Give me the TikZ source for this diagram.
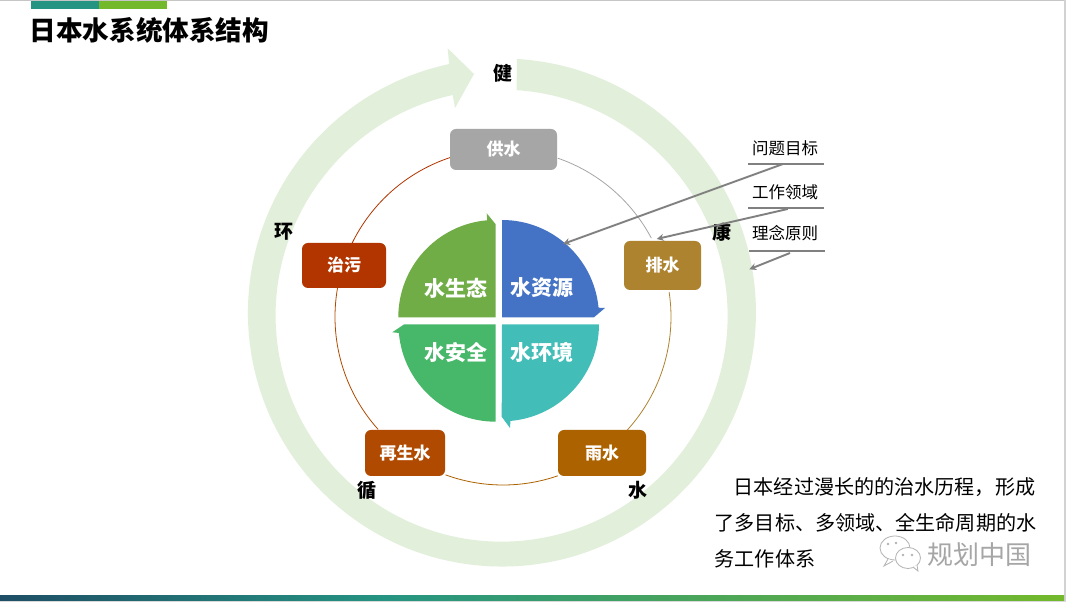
\documentclass[tikz,border=0pt]{standalone}
\usepackage{fontspec}
\setmainfont{Noto Sans CJK SC}
\usetikzlibrary{arrows.meta}
\definecolor{ringc}{HTML}{E2EFDA}
\definecolor{barteal}{HTML}{259482}
\definecolor{bargreen}{HTML}{74B92C}
\definecolor{barnavy}{HTML}{1E4E66}
\definecolor{qblue}{HTML}{4472C4}
\definecolor{qgreen}{HTML}{70AD47}
\definecolor{qteal}{HTML}{43BDB8}
\definecolor{qemer}{HTML}{47B769}
\definecolor{bgray}{HTML}{A6A6A6}
\definecolor{bochre}{HTML}{AE8330}
\definecolor{brain}{HTML}{AD6200}
\definecolor{breuse}{HTML}{B04A00}
\definecolor{bsew}{HTML}{B23500}
\tikzset{
  box/.style={fill=#1,rounded corners=6pt,inner sep=0pt,text=white,font=\fontsize{17}{18}\selectfont\bfseries},
  quadlab/.style={text=white,font=\fontsize{21}{24}\selectfont\bfseries,inner sep=0pt},
  lab/.style={text=black,font=\fontsize{19}{20}\selectfont\bfseries,inner sep=0pt},
  tag/.style={text=black,font=\fontsize{16.5}{18}\selectfont,inner sep=0pt},
  rulel/.style={draw=gray,line width=1.6pt},
  ptr/.style={draw=gray,line width=1.9pt,-{Stealth[length=7pt,width=7pt]}},
  para/.style={text=black,font=\fontsize{20.1}{24}\selectfont,inner sep=0pt,anchor=base west},
  circ/.style={line width=0.8pt}
}
\begin{document}
\begin{tikzpicture}[x=1pt,y=1pt,shift={(0,602)}]
\useasboundingbox (0,0) rectangle (1066,-602);
\fill[white] (0,0) rectangle (1066,-602);
% frame
\fill[gray!45] (0,0) rectangle (1066,-1);
\fill[gray!35] (1064,0) rectangle (1066,-602);
\fill[left color=barnavy,right color=barteal] (0,-596) rectangle (385,-601);
\fill[left color=barteal,right color=bargreen] (385,-596) rectangle (1064,-601);
\fill[gray!30] (0,-601) rectangle (1066,-602);
\fill[barteal] (31,-1) rectangle (99,-9);
\fill[bargreen] (99,-1) rectangle (167,-9);
\node[text=black,font=\fontsize{26.6}{30}\selectfont\bfseries,inner sep=0pt,anchor=west] (title) at (29.5,-30) {日本水系统体系结构};
% big ring
\fill[ringc] (517,-59) arc (86.6:-258:254) -- (447.7,-48.3) -- (474,-74) -- (455,-108) -- (452.7,-95) arc (-257.5:86.2:226) -- cycle;
% thin circle
\coordinate (c) at (503,-317);
\draw[circ,draw=bgray] ([shift={(71:168)}]c) arc (71:28:168);
\draw[circ,draw=bochre] ([shift={(8.5:168)}]c) arc (8.5:-42.3:168);
\draw[circ,draw=brain] ([shift={(-71:168)}]c) arc (-71:-110:168);
\draw[circ,draw=breuse] ([shift={(222:168)}]c) arc (222:170:168);
\draw[circ,draw=bsew] ([shift={(154:168)}]c) arc (154:108.4:168);
% boxes
\node[box=bgray,minimum width=107pt,minimum height=41pt] (gs) at (503.5,-149.5) {供水};
\node[box=bochre,minimum width=77pt,minimum height=49pt] (ps) at (662.5,-265.5) {排水};
\node[box=brain,minimum width=88pt,minimum height=46pt] (ys) at (602,-453) {雨水};
\node[box=breuse,minimum width=80pt,minimum height=46pt] (zs) at (405,-453) {再生水};
\node[box=bsew,minimum width=84pt,minimum height=45pt] (zw) at (344,-265.5) {治污};
% quadrants
\fill[qblue] (502,-220) arc (90:5.5:97) -- (605,-308) -- (594,-317.3) -- (502,-317.3) -- cycle;
\fill[qgreen] (495.7,-317.3) -- (398.3,-317.3) arc (180:95:97.4) -- (486.7,-213.3) -- (495.7,-224.3) -- cycle;
\fill[qemer] (495.7,-324.5) -- (495.7,-421.7) arc (270:185:97.2) -- (392.3,-332.3) -- (404,-324.5) -- cycle;
\fill[qteal] (502,-324.3) -- (599,-324.3) arc (0:-85:97) -- (510,-428) -- (501.7,-416.7) -- cycle;
\node[quadlab] (q1) at (542,-288) {水资源};
\node[quadlab] (q2) at (455.7,-288) {水生态};
\node[quadlab] (q3) at (455.7,-352.5) {水安全};
\node[quadlab] (q4) at (542,-352.5) {水环境};
% ring labels
\node[lab] (l1) at (502.5,-73) {健};
\node[lab] (l2) at (722,-232.5) {康};
\node[lab] (l3) at (638,-490) {水};
\node[lab] (l4) at (367,-490) {循};
\node[lab] (l5) at (284,-231.5) {环};
% tags
\node[tag] (t1) at (785,-148) {问题目标};
\node[tag] (t2) at (785,-192) {工作领域};
\node[tag] (t3) at (785,-233.5) {理念原则};
\draw[rulel] (748,-164) coordinate (r1a) -- (824,-164);
\draw[rulel] (748,-208) coordinate (r2a) -- (824,-208);
\draw[rulel] (749,-251) coordinate (r3a) -- (825,-251);
\coordinate (a1s) at (783,-164); \coordinate (a1e) at (563,-244);
\coordinate (a2s) at (787.7,-209); \coordinate (a2e) at (656.7,-239);
\coordinate (a3s) at (790,-253); \coordinate (a3e) at (749.3,-269.3);
\draw[ptr] (a1s) -- (a1e);
\draw[ptr] (a2s) -- (a2e);
\draw[ptr] (a3s) -- (a3e);
% paragraph
\node[para] (p1) at (733.5,-495) {日本经过漫长的的治水历程\char"FF0C 形成};
\node[para] (p2) at (714.5,-531) {了多目标、多领域、全生命周期的水};
\node[para] (p3) at (714.5,-567) {务工作体系};
% watermark
\draw[gray!60,fill=white,line width=0.8pt] (895,-548) ellipse [x radius=15,y radius=12];
\draw[gray!60,fill=white,line width=0.8pt] (888,-559) -- (884,-566) -- (893,-561);
\draw[gray!60,fill=white,line width=0.8pt] (908,-558) ellipse [x radius=12.5,y radius=10.5];
\draw[gray!60,fill=white,line width=0.8pt] (913,-567) -- (918,-571) -- (917,-565);
\foreach \px/\py in {888/-544,896/-543,903/-555,912/-555}
  \fill[gray!60] (\px,\py) circle (1.3);
\node[text=gray!70,font=\fontsize{26}{28}\selectfont,inner sep=0pt] (wm) at (979,-555) {规划中国};
\end{tikzpicture}
\end{document}
